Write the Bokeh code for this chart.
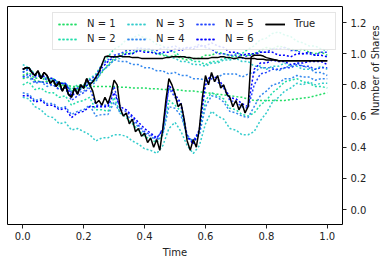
import math
import numpy as np
from bokeh.plotting import figure
from bokeh.models import Range1d, FixedTicker, Legend, LegendItem, NumeralTickFormatter
from bokeh.embed import file_html
from bokeh.resources import INLINE

# ---- data ----
true_a = [0.90,0.91,0.91,0.88,0.86,0.89,0.84,0.88,0.86,0.81,0.83,0.79,0.82,0.76,0.80,0.74,0.72,0.78,0.74,0.80,0.78,0.84,0.80,
          0.82,0.85,0.88,0.93,0.98,0.985,
          0.98,0.98,0.98,0.985,0.98,0.98,0.98,0.975,0.975,0.975,0.97,0.97,
          0.97,0.97,0.97,0.97,0.97,0.97,0.975,0.975,0.98,0.98,0.98,0.98,0.98,0.975,0.975,0.97,0.97,0.97,0.97,0.97,
          0.97,0.975,0.975,0.975,0.98,0.98,0.975,0.975,0.97,0.97,0.975,0.975,0.97,0.97,0.97,0.97,0.965,0.965,0.965,0.96,
          0.96,0.96,0.96,0.955,0.955,0.955,0.955,0.955,0.955,0.955,0.955,0.955,0.955,0.955,0.955,0.955,0.955,0.955,0.955,0.955]
true_b = [0.90,0.91,0.91,0.88,0.86,0.89,0.84,0.88,0.86,0.81,0.83,0.79,0.82,0.76,0.80,0.74,0.72,0.78,0.74,0.80,0.78,0.84,0.80,
          0.76,0.68,0.70,0.67,0.72,0.68,0.74,0.83,0.80,0.65,0.60,0.62,0.55,0.58,0.50,0.52,0.47,0.49,
          0.43,0.46,0.40,0.45,0.38,0.52,0.70,0.84,0.80,0.74,0.66,0.68,0.58,0.44,0.38,0.45,0.40,0.52,0.72,0.86,
          0.80,0.88,0.82,0.86,0.78,0.80,0.74,0.72,0.66,0.70,0.64,0.68,0.62,0.66,0.98,0.99,0.99,0.99,0.985,0.975,
          0.97,0.965,0.96,0.955,0.955,0.955,0.955,0.955,0.955,0.955,0.955,0.955,0.955,0.955,0.955,0.955,0.955,0.955,0.955,0.955]

n1_a = [0.86,0.88,0.84,0.85,0.82,0.83,0.79,0.80,0.76,0.77,0.78,0.81,0.83,0.88,0.93,0.97,0.99,1.01,1.00,1.03,1.02,1.01,1.00,0.99,0.98,0.99,0.97,0.96,0.97,0.97,0.99,0.99,1.01,1.00,0.99,0.98,0.99,0.99,1.00,1.02,1.04,1.03,1.05,1.04,1.03,1.02,1.03,1.01,1.00,1.01,0.99]
n1_b = [0.84,0.85,0.83,0.82,0.82,0.81,0.80,0.80,0.79,0.79,0.79,0.79,0.79,0.79,0.79,0.79,0.785,0.785,0.78,0.78,0.78,0.775,0.775,0.77,0.77,0.77,0.765,0.76,0.76,0.755,0.75,0.745,0.74,0.735,0.73,0.725,0.72,0.71,0.70,0.70,0.70,0.70,0.70,0.70,0.705,0.71,0.715,0.72,0.73,0.74,0.75]
n2_a = [0.88,0.91,0.87,0.87,0.84,0.84,0.81,0.81,0.77,0.80,0.80,0.84,0.87,0.93,0.98,1.03,1.05,1.09,1.10,1.12,1.10,1.09,1.06,1.05,1.02,1.01,0.98,0.98,0.95,0.95,0.93,0.95,0.95,0.97,0.97,1.00,1.00,1.03,1.05,1.09,1.10,1.13,1.14,1.12,1.11,1.08,1.07,1.05,1.05,1.03,1.02]
n2_b = [0.80,0.82,0.77,0.78,0.75,0.75,0.72,0.73,0.67,0.69,0.70,0.72,0.64,0.64,0.63,0.72,0.62,0.59,0.55,0.51,0.47,0.45,0.43,0.48,0.70,0.67,0.63,0.46,0.44,0.49,0.70,0.75,0.73,0.71,0.65,0.64,0.61,0.60,0.62,0.67,0.70,0.75,0.78,0.82,0.83,0.84,0.82,0.81,0.79,0.79,0.78]
n3_a = [0.93,0.91,0.86,0.87,0.83,0.84,0.81,0.81,0.76,0.78,0.79,0.82,0.84,0.89,0.92,0.96,0.97,1.00,1.00,1.03,1.03,1.03,1.00,1.00,0.98,0.97,0.95,0.95,0.93,0.93,0.92,0.94,0.94,0.96,0.96,0.97,0.95,0.95,0.92,0.92,0.90,0.92,0.92,0.94,0.92,0.92,0.90,0.90,0.90,0.92,0.90]
n3_b = [0.72,0.71,0.66,0.64,0.60,0.59,0.55,0.56,0.51,0.52,0.50,0.48,0.44,0.46,0.46,0.48,0.48,0.47,0.44,0.42,0.39,0.38,0.36,0.41,0.52,0.56,0.50,0.41,0.36,0.41,0.55,0.63,0.60,0.58,0.52,0.51,0.48,0.48,0.50,0.57,0.62,0.69,0.72,0.76,0.78,0.81,0.80,0.82,0.80,0.81,0.81]
n4_a = [0.85,0.85,0.81,0.82,0.79,0.80,0.77,0.78,0.73,0.75,0.76,0.79,0.82,0.89,0.92,0.96,0.95,0.95,0.93,0.93,0.91,0.91,0.89,0.89,0.87,0.88,0.86,0.86,0.84,0.84,0.83,0.85,0.85,0.87,0.87,0.87,0.85,0.87,0.88,0.91,0.91,0.91,0.89,0.91,0.92,0.94,0.92,0.91,0.88,0.88,0.86]
n4_b = [0.75,0.74,0.70,0.71,0.68,0.68,0.65,0.66,0.61,0.63,0.64,0.67,0.60,0.61,0.61,0.69,0.62,0.61,0.57,0.53,0.49,0.47,0.44,0.48,0.66,0.65,0.60,0.48,0.43,0.48,0.66,0.73,0.72,0.69,0.63,0.62,0.60,0.59,0.66,0.73,0.76,0.80,0.81,0.84,0.84,0.86,0.85,0.85,0.83,0.84,0.84]
n5_a = [0.88,0.90,0.85,0.86,0.83,0.83,0.80,0.81,0.75,0.78,0.79,0.83,0.86,0.93,0.96,0.99,1.00,1.02,1.02,1.04,1.03,1.03,1.02,1.04,1.04,1.05,1.03,1.04,1.04,1.06,1.04,1.03,1.00,1.00,0.99,0.99,0.97,0.99,0.99,1.01,1.01,1.03,1.03,1.04,1.02,1.02,1.00,1.00,0.99,1.01,1.01]
n5_b = [0.85,0.87,0.82,0.82,0.81,0.80,0.77,0.78,0.70,0.73,0.75,0.78,0.67,0.67,0.67,0.79,0.64,0.63,0.59,0.54,0.50,0.48,0.45,0.52,0.78,0.72,0.66,0.46,0.44,0.51,0.80,0.84,0.82,0.78,0.70,0.69,0.66,0.65,0.80,0.87,0.88,0.90,0.90,0.91,0.91,0.93,0.92,0.92,0.90,0.91,0.91]
n6_a = [0.90,0.91,0.86,0.86,0.85,0.84,0.81,0.81,0.73,0.76,0.78,0.81,0.84,0.91,0.95,0.98,0.98,1.00,1.00,1.02,1.01,1.01,1.00,1.01,1.01,1.03,1.02,1.04,1.03,1.05,1.05,1.07,1.05,1.04,1.01,1.01,0.99,1.00,1.00,1.01,1.01,1.01,0.99,0.99,0.98,1.00,1.00,1.01,0.99,0.99,0.98]
n6_b = [0.73,0.73,0.69,0.70,0.67,0.67,0.64,0.65,0.59,0.62,0.63,0.66,0.66,0.66,0.66,0.75,0.66,0.64,0.60,0.56,0.52,0.49,0.46,0.51,0.80,0.74,0.68,0.47,0.42,0.51,0.82,0.86,0.84,0.79,0.72,0.71,0.68,0.66,0.90,0.94,0.94,0.96,0.95,0.95,0.93,0.94,0.94,0.95,0.95,0.95,0.93]

series_labels = ["N = 1", "N = 2", "N = 3", "N = 4", "N = 5", "N = 6"]
series_paths = [[n1_a, n1_b], [n2_a, n2_b], [n3_a, n3_b], [n4_a, n4_b], [n5_a, n5_b], [n6_a, n6_b]]
series_colors = ["#22dd66", "#22ddaa", "#33cccc", "#3388ee", "#2244ff", "#0000ff"]
x_ticks = [0.0, 0.2, 0.4, 0.6, 0.8, 1.0]
y_ticks = [0.0, 0.2, 0.4, 0.6, 0.8, 1.0, 1.2]

FONT = "DejaVu Sans"

p = figure(frame_width=335, frame_height=218, output_backend="svg", toolbar_location=None,
           x_range=Range1d(-0.05, 1.05), y_range=Range1d(-0.096, 1.303),
           y_axis_location="right", min_border_left=7, min_border_top=6, min_border_right=0,
           min_border_bottom=0, background_fill_color="white", border_fill_color="white")
p.grid.visible = False
p.outline_line_color = "black"
p.outline_line_width = 1

for ax in (p.xaxis[0], p.yaxis[0]):
    ax.axis_line_color = None
    ax.minor_tick_line_color = None
    ax.major_tick_out = 4
    ax.major_tick_in = 0
    ax.major_tick_line_color = "#222222"
    ax.major_label_text_font = FONT
    ax.major_label_text_font_size = "10px"
    ax.major_label_text_color = "#222222"
    ax.axis_label_text_font = FONT
    ax.axis_label_text_font_size = "10px"
    ax.axis_label_text_font_style = "normal"
    ax.axis_label_text_color = "#222222"
    ax.formatter = NumeralTickFormatter(format="0.0")

p.xaxis.ticker = FixedTicker(ticks=x_ticks)
p.yaxis.ticker = FixedTicker(ticks=y_ticks)
p.xaxis.axis_label = "Time"
p.yaxis.axis_label = "Number of Shares"
p.xaxis.axis_label_standoff = 4
p.yaxis.axis_label_standoff = 6
p.xaxis.major_label_standoff = 3
p.yaxis.major_label_standoff = 4
try:
    p.yaxis.axis_label_orientation = math.pi / 2
except Exception:
    pass

items = []
for lab, paths, col in zip(series_labels, series_paths, series_colors):
    rs = []
    for vals in paths:
        t = np.linspace(0, 1, len(vals))
        r = p.line(t, vals, line_color=col, line_width=1.5, line_dash="2 2", line_alpha=1.0)
        rs.append(r)
    items.append(LegendItem(label=lab, renderers=rs))

tr = []
for vals in (true_a, true_b):
    t = np.linspace(0, 1, len(vals))
    tr.append(p.line(t, vals, line_color="black", line_width=1.5))
items.append(LegendItem(label="True", renderers=tr))

legend = Legend(items=items, location="top_right", orientation="vertical", nrows=2,
                label_text_font=FONT, label_text_font_size="10px", label_text_color="#222222",
                glyph_width=20, glyph_height=10, label_height=10, label_width=36, label_standoff=9,
                spacing=4, padding=5, margin=6,
                border_line_color="#cccccc", border_line_width=1, background_fill_alpha=0.85)
p.add_layout(legend, "center")

open("out.html", "w").write(file_html(p, INLINE))
